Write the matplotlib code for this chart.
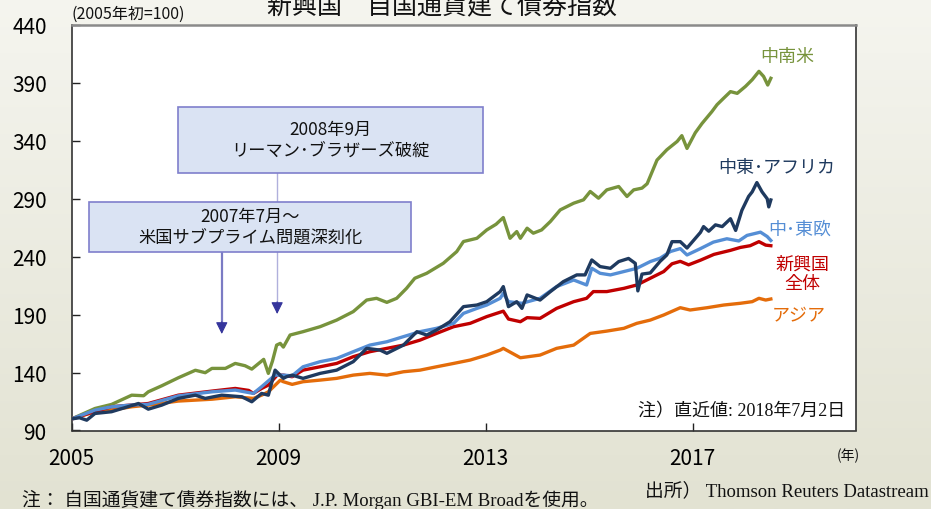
import numpy as np
import matplotlib
matplotlib.use('Agg')
import matplotlib.pyplot as plt
from matplotlib.patches import Rectangle
from matplotlib.colors import LinearSegmentedColormap

SANS = ['Noto Sans CJK JP', 'DejaVu Sans']
MIX = ['Liberation Serif', 'Noto Sans CJK JP', 'DejaVu Sans']
plt.rcParams['font.family'] = SANS

# ---------------- data ----------------
latam_t = [2005.00, 2005.20, 2005.45, 2005.77, 2006.16, 2006.39, 2006.48, 2006.74, 2007.06, 2007.39,
           2007.58, 2007.71, 2007.97, 2008.16, 2008.35, 2008.48, 2008.71, 2008.80, 2008.88, 2008.96,
           2009.03, 2009.09, 2009.22, 2009.47, 2009.80, 2010.12, 2010.44, 2010.70, 2010.89, 2011.09,
           2011.28, 2011.47, 2011.63, 2011.86, 2012.18, 2012.44, 2012.57, 2012.83, 2013.02, 2013.20,
           2013.34, 2013.47, 2013.60, 2013.67, 2013.80, 2013.92, 2014.08, 2014.25, 2014.44, 2014.70,
           2014.89, 2015.02, 2015.18, 2015.34, 2015.57, 2015.73, 2015.86, 2016.02, 2016.12, 2016.31,
           2016.50, 2016.70, 2016.79, 2016.89, 2017.05, 2017.18, 2017.37, 2017.47, 2017.60, 2017.73,
           2017.86, 2018.02, 2018.15, 2018.28, 2018.37, 2018.45, 2018.51]
latam_v = [100, 104, 109, 112.5, 120.5, 120, 123.4, 128.6, 135.5, 142,
           139.9, 143.6, 143.6, 147.9, 145.9, 143, 151.4, 139.3, 150, 163.7,
           165.2, 162, 172.4, 175.3, 179.6, 185.3, 192.6, 202.6, 204.1, 200.6,
           204.1, 212.7, 221.4, 225.7, 234.3, 244.4, 253.1, 255.9, 263.1, 268,
           273.8, 255.9, 261.7, 255.9, 264.6, 260.3, 263.1, 270.4, 280.4, 286.2,
           289.1, 296.3, 290.5, 297.7, 300.6, 292, 297.7, 299.2, 303, 323.4,
           332.3, 339.5, 344.5, 333.5, 347, 355, 365.2, 371.2, 376.9, 382.5,
           381, 387, 392.8, 400, 395.6, 388.2, 394]

mea_t = [2005.00, 2005.15, 2005.29, 2005.45, 2005.77, 2006.29, 2006.48, 2006.74, 2007.06, 2007.39,
         2007.58, 2007.90, 2008.29, 2008.48, 2008.67, 2008.80, 2008.93, 2009.09, 2009.15, 2009.26,
         2009.47, 2009.80, 2010.12, 2010.44, 2010.70, 2010.96, 2011.09, 2011.41, 2011.67, 2011.86,
         2012.05, 2012.31, 2012.57, 2012.83, 2013.02, 2013.28, 2013.34, 2013.44, 2013.60, 2013.70,
         2013.80, 2014.05, 2014.25, 2014.50, 2014.76, 2014.92, 2015.05, 2015.21, 2015.41, 2015.57,
         2015.76, 2015.89, 2015.94, 2016.02, 2016.18, 2016.37, 2016.50, 2016.60, 2016.76, 2016.89,
         2017.15, 2017.21, 2017.31, 2017.44, 2017.57, 2017.73, 2017.83, 2017.95, 2018.08, 2018.15,
         2018.24, 2018.34, 2018.44, 2018.47, 2018.51]
mea_v = [100, 101, 98.9, 104.7, 106.2, 113.3, 108.4, 111.9, 117.7, 120.5,
         117.7, 120.5, 119.1, 114.8, 122, 120.5, 142.1, 135, 136.4, 137.8,
         135, 139.3, 142.1, 149.4, 160.9, 159.4, 156.6, 163.7, 175.3, 172.4,
         176.7, 183.9, 196.9, 198.3, 201.2, 209.9, 214.2, 196.9, 201.2, 195.4,
         207, 202.6, 209.9, 218.5, 224.3, 224.3, 237.2, 231.5, 230, 235.8,
         238.5, 234.3, 210.5, 225, 226, 236, 241.5, 253, 253, 247.5,
         261, 266, 262, 267.5, 266, 272.8, 262.7, 280, 292, 296,
         304, 296, 290, 283, 289]

ceu_t = [2005.00, 2005.45, 2005.77, 2006.16, 2006.48, 2007.06, 2007.71, 2008.16, 2008.51, 2008.67,
         2008.93, 2009.09, 2009.26, 2009.47, 2009.80, 2010.12, 2010.44, 2010.76, 2011.09, 2011.41,
         2011.73, 2012.05, 2012.38, 2012.57, 2012.83, 2013.02, 2013.28, 2013.34, 2013.44, 2013.70,
         2014.05, 2014.37, 2014.70, 2014.95, 2015.05, 2015.21, 2015.41, 2015.67, 2015.92, 2016.18,
         2016.37, 2016.57, 2016.76, 2016.89, 2017.15, 2017.40, 2017.66, 2017.89, 2018.05, 2018.31,
         2018.44, 2018.51]
ceu_v = [100, 107.6, 110.5, 112, 112.6, 119.9, 123.4, 124.9, 122, 127.8,
         137.8, 137.8, 137.2, 145, 149.4, 152.2, 158, 163.7, 166.6, 171,
         175.3, 178.2, 182.5, 191.1, 195.4, 198.3, 204.1, 208.4, 201.2, 199.8,
         204.1, 214.2, 219.9, 215.6, 230, 225.7, 224.3, 227.2, 230, 235.8,
         238.7, 244.5, 247, 241.5, 247, 252.6, 255.5, 253.6, 258.4, 261.2,
         257.4, 254]

em_t = [2005.00, 2005.45, 2005.77, 2006.48, 2007.06, 2007.71, 2008.16, 2008.42, 2008.51, 2008.67,
        2008.80, 2008.97, 2009.09, 2009.26, 2009.47, 2009.80, 2010.12, 2010.44, 2010.76, 2011.09,
        2011.41, 2011.73, 2012.05, 2012.38, 2012.70, 2013.02, 2013.34, 2013.44, 2013.67, 2013.80,
        2014.05, 2014.37, 2014.70, 2014.95, 2015.08, 2015.34, 2015.67, 2015.92, 2016.18, 2016.44,
        2016.60, 2016.76, 2016.92, 2017.15, 2017.41, 2017.73, 2017.92, 2018.11, 2018.28, 2018.41,
        2018.51]
em_v = [100, 106.5, 110.5, 113.3, 120.5, 124, 126.3, 124.6, 122, 126.3,
        129.2, 137.8, 137.8, 136.4, 142.1, 145, 147.9, 153.7, 158, 160.9,
        163.7, 168, 173.8, 179.6, 182.5, 188.3, 193, 186.2, 183.9, 187.4,
        186.8, 195.4, 201.2, 204.1, 209.9, 209.9, 212.7, 215.6, 221.4, 227.2,
        233.9, 236, 233, 237, 242, 245.5, 248, 249.5, 253, 250,
        249.5]

asia_t = [2005.00, 2005.45, 2005.77, 2006.16, 2006.48, 2007.06, 2007.71, 2008.16, 2008.51, 2008.67,
          2008.80, 2009.03, 2009.09, 2009.26, 2009.47, 2009.80, 2010.12, 2010.44, 2010.76, 2011.09,
          2011.41, 2011.73, 2012.05, 2012.38, 2012.70, 2013.02, 2013.28, 2013.34, 2013.67, 2014.05,
          2014.37, 2014.70, 2015.02, 2015.34, 2015.67, 2015.92, 2016.18, 2016.44, 2016.76, 2016.95,
          2017.28, 2017.60, 2017.92, 2018.15, 2018.28, 2018.41, 2018.51]
asia_v = [100, 106.2, 107.6, 110.5, 111.9, 115.4, 117, 119.1, 117.7, 120.5,
          123.4, 133.4, 132.1, 129.8, 132.1, 133.5, 135, 137.8, 139.3, 137.8,
          140.7, 142.1, 145, 147.9, 150.8, 155.1, 159.4, 160.9, 152.8, 155.1,
          160.9, 163.7, 173.8, 175.8, 178.2, 182.5, 185.3, 189.7, 196, 194,
          196, 198.3, 199.8, 201.2, 204.1, 202.6, 203.5]

x_ticks = [2005, 2009, 2013, 2017]
y_ticks = [90, 140, 190, 240, 290, 340, 390, 440]

series_labels = ['中南米', '中東･アフリカ', '中･東欧', '新興国\n全体', 'アジア']
colors = {'latam': '#77933c', 'mea': '#1f3a5f', 'ceu': '#558ed5',
          'em': '#c00000', 'asia': '#e46c0a'}

# ---------------- figure ----------------
W, H = 931, 510
fig = plt.figure(figsize=(W / 100, H / 100), dpi=100)

# background gradient
bg = fig.add_axes([0, 0, 1, 1], zorder=-10)
grad = np.linspace(0, 1, 256).reshape(-1, 1)
cmap = LinearSegmentedColormap.from_list('bg', ['#f5f5ef', '#e2e2d2'])
bg.imshow(grad, aspect='auto', cmap=cmap, extent=[0, 1, 0, 1], origin='upper')
bg.axis('off')

ax = fig.add_axes([71.7 / W, 1 - 431.5 / H, 784.3 / W, 405.5 / H])
ax.set_facecolor('white')

lw = 2.4
ax.plot(latam_t, latam_v, color=colors['latam'], lw=lw, solid_joinstyle='round', zorder=3)
ax.plot(asia_t, asia_v, color=colors['asia'], lw=lw, solid_joinstyle='round', zorder=3)
ax.plot(em_t, em_v, color=colors['em'], lw=lw, solid_joinstyle='round', zorder=3)
ax.plot(ceu_t, ceu_v, color=colors['ceu'], lw=lw, solid_joinstyle='round', zorder=3)
ax.plot(mea_t, mea_v, color=colors['mea'], lw=lw, solid_joinstyle='round', zorder=3)

ax.set_xlim(2005, 2005 + 784.3 / 51.75)
ax.set_ylim(90, 440)
ax.set_xticks(x_ticks)
ax.set_xticklabels([str(t) for t in x_ticks])
ax.set_yticks(y_ticks)
ax.set_yticklabels([str(t) for t in y_ticks])
ax.tick_params(axis='both', direction='in', length=6, width=1.0, labelsize=15,
               colors='#222222', labelcolor='black')
ax.tick_params(axis='x', pad=12)
ax.tick_params(axis='y', pad=18)
for s in ['left', 'bottom', 'right']:
    ax.spines[s].set_color('#333333')
    ax.spines[s].set_linewidth(1.2)
ax.spines['top'].set_color('#8a8a8a')
ax.spines['top'].set_linewidth(1.8)

# series labels
def ftext(x, y, s, **kw):
    fig.text(x / W, 1 - y / H, s, **kw)

ftext(787, 57, series_labels[0], color=colors['latam'], fontsize=13, ha='center', va='center')
ftext(777, 168, series_labels[1], color=colors['mea'], fontsize=13, ha='center', va='center')
ftext(800, 230, series_labels[2], color=colors['ceu'], fontsize=13, ha='center', va='center')
ftext(802, 274, series_labels[3], color=colors['em'], fontsize=13, ha='center', va='center',
      linespacing=1.1)
ftext(799, 315, series_labels[4], color=colors['asia'], fontsize=13, ha='center', va='center')

# annotation boxes (axes fraction)
box_fc = '#dae3f3'
box_ec = '#7f7fcc'
b1 = (0.1355, 0.635, 0.5244 - 0.1355, 0.798 - 0.635)
b2 = (0.0222, 0.4402, 0.4326 - 0.0222, 0.5635 - 0.4402)
trans = ax.get_xaxis_transform()

# arrow lines
ax.plot([2008.97, 2008.97], [b1[1], 0.2873 + 0.02], transform=trans, color='#b0b0dc',
        lw=1.0, zorder=4, clip_on=False)
ax.plot([2007.90, 2007.90], [b2[1], 0.238 + 0.02], transform=trans, color='#7b7bc4',
        lw=1.6, zorder=4, clip_on=False)
for xa, tip in [(2008.97, 0.2873), (2007.90, 0.238)]:
    ax.annotate('', xy=(xa, tip), xytext=(xa, tip + 0.03), xycoords=trans, textcoords=trans,
                arrowprops=dict(arrowstyle='-|>,head_length=0.6,head_width=0.3',
                                color='#35359c', lw=0.8, mutation_scale=12,
                                shrinkA=0, shrinkB=0), zorder=4)

for (x0, y0, w, h), txt in [(b1, '2008年9月\nリーマン･ブラザーズ破綻'),
                            (b2, '2007年7月～\n米国サブプライム問題深刻化')]:
    ax.add_patch(Rectangle((x0, y0), w, h, transform=ax.transAxes, facecolor=box_fc,
                           edgecolor=box_ec, lw=1.2, zorder=5, clip_on=False))
    ax.text(x0 + w / 2, y0 + h / 2, txt, transform=ax.transAxes, ha='center', va='center',
            fontsize=12.4, linespacing=1.25, color='#111111', zorder=6)

# other texts
ftext(442, 14, '新興国　自国通貨建て債券指数', fontsize=18, ha='center', va='baseline',
      color='#111111')
ftext(128, 14, '(2005年初=100)', fontsize=11.5, ha='center', va='center', color='#111111')
ftext(848, 456, '(年)', fontsize=10, ha='center', va='center', color='#111111')
ftext(845, 412, '注）直近値: 2018年7月2日', fontsize=13, ha='right', va='center',
      family=MIX, color='#111111')
ftext(645, 491, '出所） Thomson Reuters Datastream', fontsize=13.5, ha='left', va='center',
      family=MIX, color='#111111')
ftext(22, 500, '注： 自国通貨建て債券指数には、 J.P. Morgan GBI-EM Broadを使用。', fontsize=13.5,
      ha='left', va='center', family=MIX, color='#111111')

fig.savefig('out.png', dpi=100, facecolor=fig.get_facecolor())
